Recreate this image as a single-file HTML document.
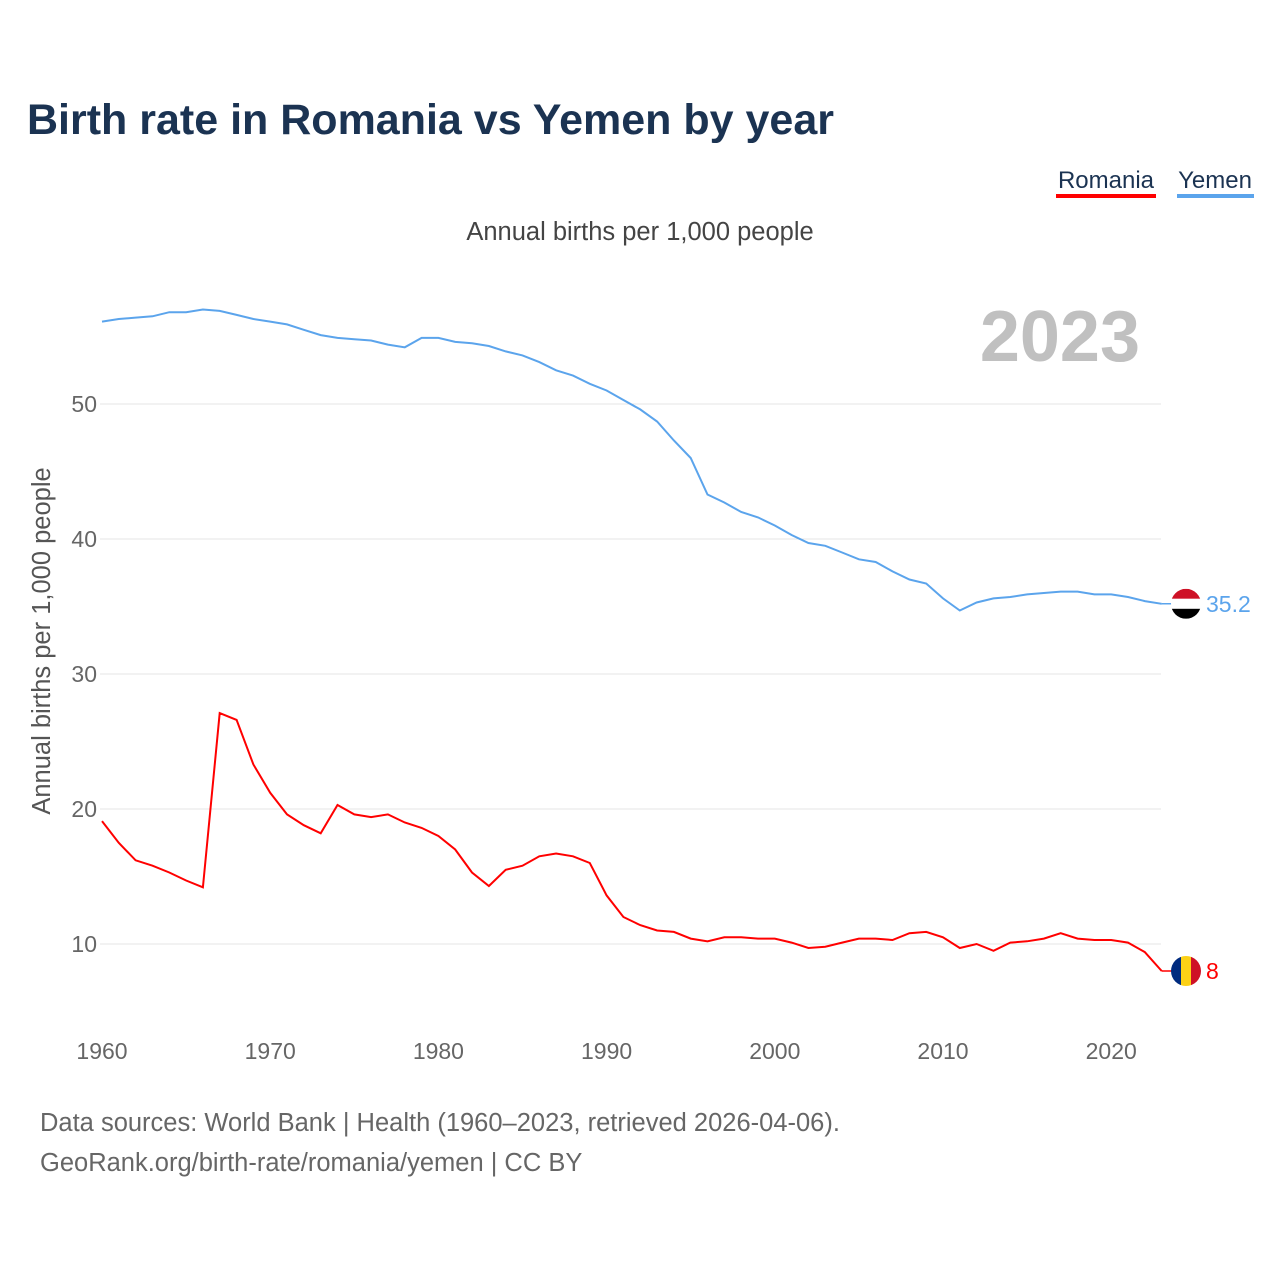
<!DOCTYPE html>
<html><head><meta charset="utf-8"><style>
body{margin:0;background:#fff;font-family:"Liberation Sans",sans-serif;}
</style></head><body>
<svg width="1280" height="1280" xmlns="http://www.w3.org/2000/svg" font-family="Liberation Sans, sans-serif">
<text x="27" y="134" font-size="43" font-weight="bold" fill="#1b3352">Birth rate in Romania vs Yemen by year</text>
<g>
<text x="1106" y="188" font-size="24" fill="#1b3352" text-anchor="middle">Romania</text>
<rect x="1056" y="194" width="100" height="4" fill="#ff0000"/>
<text x="1215" y="188" font-size="24" fill="#1b3352" text-anchor="middle">Yemen</text>
<rect x="1177" y="194" width="77" height="4" fill="#5ba4ec"/>
</g>
<text x="640" y="240" font-size="25.5" fill="#444" text-anchor="middle">Annual births per 1,000 people</text>
<text x="1140" y="361" font-size="72" font-weight="bold" fill="#c0c0c0" text-anchor="end">2023</text>
<text transform="translate(50,641) rotate(-90)" font-size="25.5" fill="#555" text-anchor="middle">Annual births per 1,000 people</text>
<g id="grid"></g><g id="xt"></g><g id="lines"></g>
<text x="40" y="1131" font-size="25.5" fill="#666">Data sources: World Bank | Health (1960–2023, retrieved 2026-04-06).</text>
<text x="40" y="1171" font-size="25.5" fill="#666">GeoRank.org/birth-rate/romania/yemen | CC BY</text>
</svg>
<script>
const years=[];for(let y=1960;y<=2023;y++)years.push(y);
const yemen=[56.1,56.3,56.4,56.5,56.8,56.8,57.0,56.9,56.6,56.3,56.1,55.9,55.5,55.1,54.9,54.8,54.7,54.4,54.2,54.9,54.9,54.6,54.5,54.3,53.9,53.6,53.1,52.5,52.1,51.5,51.0,50.3,49.6,48.7,47.3,46.0,43.3,42.7,42.0,41.6,41.0,40.3,39.7,39.5,39.0,38.5,38.3,37.6,37.0,36.7,35.6,34.7,35.3,35.6,35.7,35.9,36.0,36.1,36.1,35.9,35.9,35.7,35.4,35.2];
const romania=[19.1,17.5,16.2,15.8,15.3,14.7,14.2,27.1,26.6,23.3,21.2,19.6,18.8,18.2,20.3,19.6,19.4,19.6,19.0,18.6,18.0,17.0,15.3,14.3,15.5,15.8,16.5,16.7,16.5,16.0,13.6,12.0,11.4,11.0,10.9,10.4,10.2,10.5,10.5,10.4,10.4,10.1,9.7,9.8,10.1,10.4,10.4,10.3,10.8,10.9,10.5,9.7,10.0,9.5,10.1,10.2,10.4,10.8,10.4,10.3,10.3,10.1,9.4,8.0];
const yTicks=[10,20,30,40,50];
const xTicks=[1960,1970,1980,1990,2000,2010,2020];
const NS="http://www.w3.org/2000/svg";
const X=y=>102+(y-1960)*16.82, Y=v=>944-(v-10)*13.5;
function mk(t,a,p){const e=document.createElementNS(NS,t);for(const k in a)e.setAttribute(k,a[k]);p.appendChild(e);return e;}
const g=document.getElementById('grid');
yTicks.forEach(v=>{const l=mk('line',{x1:100,x2:1161,y1:Y(v),y2:Y(v),stroke:'#e6e6e6'},g);


const t=mk('text',{x:97,y:Y(v)+8,'font-size':23,fill:'#666','text-anchor':'end'},g);t.textContent=v;

});
const xt=document.getElementById('xt');
xTicks.forEach(v=>{const t=mk('text',{x:X(v),y:1059,'font-size':23,fill:'#666','text-anchor':'middle'},xt);t.textContent=v;

});
const L=document.getElementById('lines');
function series(d,c,name,flag){
const p=mk('path',{d:d.map((v,i)=>(i?'L':'M')+X(years[i]).toFixed(1)+','+Y(v).toFixed(1)).join(''),fill:'none',stroke:c,'stroke-width':2},L);


const last=d[d.length-1],ex=X(2023),ey=Y(last);
mk('line',{x1:ex,x2:1178,y1:ey,y2:ey,stroke:c,'stroke-width':1.5},L);
const fg=mk('g',{},L);


mk('clipPath',{id:'c'+name},fg).appendChild(document.createElementNS(NS,'circle'));
const cc=fg.querySelector('circle');cc.setAttribute('cx',1186);cc.setAttribute('cy',ey);cc.setAttribute('r',15);
const cg=mk('g',{'clip-path':'url(#c'+name+')'},fg);
flag.forEach((f,i)=>mk('rect',f.v?{x:1171+i*10,y:ey-15,width:10,height:30,fill:f.c}:{x:1171,y:ey-15+i*10,width:30,height:10,fill:f.c},cg));
const t=mk('text',{x:1206,y:ey+8,'font-size':23,fill:c},L);t.textContent=last;


}
series(yemen,'#5ba4ec','yemen',[{c:'#ce1126'},{c:'#fff'},{c:'#000'}]);
series(romania,'#ff0000','romania',[{c:'#002b7f',v:1},{c:'#fcd116',v:1},{c:'#ce1126',v:1}]);
</script>
</body></html>
